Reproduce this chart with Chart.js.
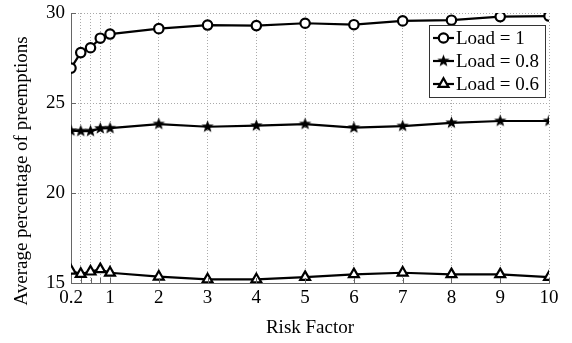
<!DOCTYPE html>
<html><head><meta charset="utf-8">
<script src="https://cdn.jsdelivr.net/npm/chart.js@4"></script>
<style>html,body{margin:0;padding:0;background:#fff}</style>
</head><body>
<canvas id="c" width="572" height="343"></canvas>
<script>
// ---- data ----
const riskFactors = [0.2, 0.4, 0.6, 0.8, 1, 2, 3, 4, 5, 6, 7, 8, 9, 10];
const load1  = [26.94, 27.8, 28.07, 28.6, 28.83, 29.13, 29.33, 29.3, 29.43, 29.35, 29.56, 29.6, 29.8, 29.83];
const load08 = [23.46, 23.44, 23.44, 23.59, 23.6, 23.83, 23.68, 23.74, 23.83, 23.63, 23.72, 23.9, 24.0, 24.0];
const load06 = [15.68, 15.5, 15.63, 15.76, 15.57, 15.35, 15.2, 15.2, 15.33, 15.48, 15.57, 15.48, 15.48, 15.33];
const seriesLabels = ['Load = 1', 'Load = 0.8', 'Load = 0.6'];
const xTickValues = [0.2, 0.4, 0.6, 0.8, 1, 2, 3, 4, 5, 6, 7, 8, 9, 10];
const xTickLabels = ['0.2', '', '', '', '1', '2', '3', '4', '5', '6', '7', '8', '9', '10'];
const yTickValues = [15, 20, 25, 30];
const xTitle = 'Risk Factor';
const yTitle = 'Average percentage of preemptions';

const FONT = "'Liberation Serif', 'Times New Roman', serif";
const FS = 19;

function makeStar(r) {
  const c = document.createElement('canvas');
  const s = Math.ceil(r * 2 + 2);
  c.width = s; c.height = s;
  const g = c.getContext('2d');
  g.fillStyle = '#000';
  g.beginPath();
  for (let i = 0; i < 10; i++) {
    const a = -Math.PI / 2 + i * Math.PI / 5;
    const rr = i % 2 ? r * 0.42 : r;
    g.lineTo(s / 2 + rr * Math.cos(a), s / 2 + rr * Math.sin(a));
  }
  g.closePath(); g.fill();
  return c;
}
const starImg = makeStar(6.5);

function pts(arr) { return riskFactors.map((x, i) => ({x, y: arr[i]})); }

const common = {borderColor: '#000', borderWidth: 2.2, pointBorderColor: '#000', pointBackgroundColor: '#fff', pointBorderWidth: 2.2, tension: 0};
const datasets = [
  Object.assign({label: seriesLabels[0], data: pts(load1), pointStyle: 'circle', pointRadius: 4.7}, common),
  Object.assign({label: seriesLabels[1], data: pts(load08), pointStyle: starImg, pointRadius: 6}, common),
  Object.assign({label: seriesLabels[2], data: pts(load06), pointStyle: 'triangle', pointRadius: 5.7}, common),
];

const inwardTicks = {
  id: 'inwardTicks',
  afterDraw(chart) {
    const ctx = chart.ctx, x = chart.scales.x, y = chart.scales.y, a = chart.chartArea;
    ctx.save(); ctx.strokeStyle = '#666'; ctx.lineWidth = 1;
    ctx.beginPath();
    x.ticks.forEach(t => { const px = Math.round(x.getPixelForValue(t.value)) + 0.5; ctx.moveTo(px, a.bottom); ctx.lineTo(px, a.bottom - 5); });
    y.ticks.forEach(t => { const py = Math.round(y.getPixelForValue(t.value)) + 0.5; ctx.moveTo(a.left, py); ctx.lineTo(a.left + 5, py); });
    ctx.stroke();
    // y title
    ctx.fillStyle = '#000'; ctx.font = FS + 'px ' + FONT;
    ctx.textAlign = 'center'; ctx.textBaseline = 'middle';
    ctx.translate(22, 171); ctx.rotate(-Math.PI / 2);
    ctx.fillText(yTitle, 0, 0);
    ctx.restore();
  }
};

const boxLegend = {
  id: 'boxLegend',
  afterDraw(chart) {
    const ctx = chart.ctx, a = chart.chartArea;
    ctx.save();
    ctx.font = FS + 'px ' + FONT;
    const labels = chart.data.datasets.map(d => d.label);
    const tw = Math.max(...labels.map(l => ctx.measureText(l).width));
    const rowH = 23, lineW = 21, gap = 2;
    const w = 4 + lineW + gap + tw + 6, h = rowH * labels.length + 3;
    const right = a.right - 4, top = a.top + 12;
    const left = right - w;
    ctx.fillStyle = '#fff'; ctx.fillRect(left, top, w, h);
    ctx.strokeStyle = '#333'; ctx.lineWidth = 1;
    ctx.strokeRect(Math.round(left) + 0.5, Math.round(top) + 0.5, Math.round(w), Math.round(h));
    chart.data.datasets.forEach((d, i) => {
      const cy = top + 13 + i * rowH;
      const x0 = left + 4, cx = x0 + lineW / 2;
      ctx.strokeStyle = '#000'; ctx.lineWidth = 2.2;
      ctx.beginPath(); ctx.moveTo(x0, cy); ctx.lineTo(x0 + lineW, cy); ctx.stroke();
      if (d.pointStyle === 'circle') {
        ctx.fillStyle = '#fff'; ctx.beginPath(); ctx.arc(cx, cy, d.pointRadius, 0, Math.PI * 2); ctx.fill(); ctx.stroke();
      } else if (d.pointStyle === 'triangle') {
        const r = d.pointRadius;
        ctx.fillStyle = '#fff'; ctx.beginPath();
        for (let k = 0; k < 3; k++) { const ang = k * 2 * Math.PI / 3; ctx.lineTo(cx + Math.sin(ang) * r, cy - Math.cos(ang) * r); }
        ctx.closePath(); ctx.fill(); ctx.stroke();
      } else {
        const img = d.pointStyle; ctx.drawImage(img, cx - img.width / 2, cy - img.height / 2);
      }
      ctx.fillStyle = '#000'; ctx.textAlign = 'left'; ctx.textBaseline = 'middle';
      ctx.fillText(d.label, x0 + lineW + gap, cy + 1);
    });
    ctx.restore();
  }
};

new Chart(document.getElementById('c'), {
  type: 'line',
  data: {datasets},
  options: {
    responsive: false, animation: false, devicePixelRatio: 1,
    layout: {padding: {left: 0, right: 23, top: 13, bottom: 0}},
    plugins: {legend: {display: false}, tooltip: {enabled: false}},
    scales: {
      x: {
        type: 'linear', min: 0.2, max: 10,
        afterBuildTicks: s => { s.ticks = xTickValues.map(v => ({value: v})); },
        afterFit: s => { s.height = 60; s.paddingLeft = 0; s.paddingRight = 0; },
        ticks: {autoSkip: false, maxRotation: 0, padding: 4, color: '#000', font: {family: FONT, size: FS},
          callback: (v, i) => xTickLabels[i]},
        grid: {color: '#aaa', lineWidth: 1, drawTicks: false},
        border: {display: true, color: '#666', width: 1, dash: [1, 2]},
        title: {display: true, text: xTitle, color: '#000', font: {family: FONT, size: FS}, padding: {top: 4, bottom: 4}}
      },
      y: {
        min: 15, max: 30,
        afterBuildTicks: s => { s.ticks = yTickValues.map(v => ({value: v})); },
        afterFit: s => { s.width = 71; s.paddingTop = 0; s.paddingBottom = 0; },
        ticks: {padding: 6, color: '#000', font: {family: FONT, size: FS}, callback: v => String(v)},
        grid: {color: '#aaa', lineWidth: 1, drawTicks: false},
        border: {display: true, color: '#666', width: 1, dash: [1, 2]}
      }
    }
  },
  plugins: [inwardTicks, boxLegend]
});
</script>
</body></html>
